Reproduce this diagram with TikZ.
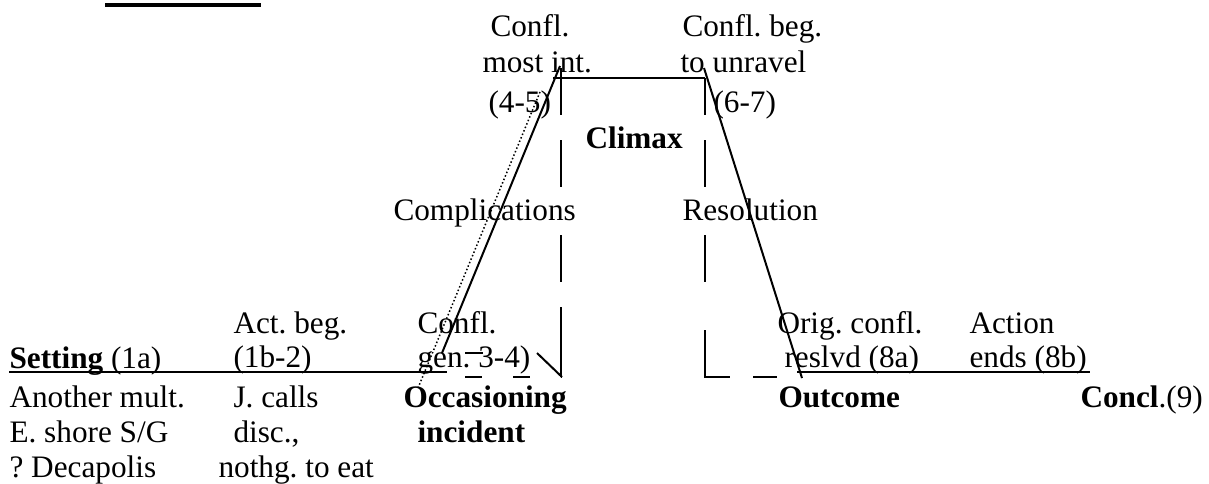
\documentclass[tikz,border=0pt]{standalone}
\usepackage{fontspec}
\setmainfont{Liberation Serif}
\frenchspacing
\begin{document}
\begin{tikzpicture}[x=0.4pt,y=-0.4pt,
        lbl/.style={anchor=base west,inner sep=0pt,font=\fontsize{12.5}{14}\selectfont},
        riseline/.style={line width=0.8pt},
        flatline/.style={line width=1.15pt},
        boxline/.style={line width=0.9pt}]
    \useasboundingbox (0,0) rectangle (1209,483);

    % cut-off title bar at the top
    \fill (105,3) rectangle (261,7);

    % corners of the plot
    \coordinate (setL) at (9,372);
    \coordinate (setR) at (447,372);
    \coordinate (riseB) at (442,353);
    \coordinate (riseT) at (560,66);
    \coordinate (topL) at (553,78);
    \coordinate (topR) at (705,78);
    \coordinate (fallT) at (704,68);
    \coordinate (fallB) at (802,378);
    \coordinate (endL) at (797,372);
    \coordinate (endR) at (1090,372);
    \coordinate (boxTL) at (561,68);
    \coordinate (boxBL) at (561,377);
    \coordinate (boxEL) at (465,377);
    \coordinate (boxTR) at (705,78);
    \coordinate (boxBR) at (705,377);
    \coordinate (boxER) at (777,377);
    \coordinate (kinkA) at (537,353);
    \coordinate (kinkB) at (562,377);
    \coordinate (barA) at (465,353);
    \coordinate (barB) at (483,353);
    \coordinate (dotT) at (540,92);
    \coordinate (dotB) at (418,388);

    \draw[flatline] (setL) -- (setR);
    \draw[riseline] (riseB) -- (riseT);
    \draw[flatline] (topL) -- (topR);
    \draw[riseline] (fallT) -- (fallB);
    \draw[flatline] (endL) -- (endR);

    % dashed guides round the climax
    \draw[boxline,dash pattern=on 18.8pt off 10pt on 18.8pt off 19.2pt on 18.8pt off 10pt on 28pt off 12.4pt on 6.8pt off 12.4pt on 7.2pt]
        (boxTL) -- (boxBL) -- (boxEL);
    \draw[boxline,dash pattern=on 14.8pt off 10pt on 18.8pt off 19.2pt on 18.8pt off 19.2pt on 28.8pt off 9.2pt on 9.6pt]
        (boxTR) -- (boxBR) -- (boxER);
    \draw[riseline] (kinkA) -- (kinkB);
    \draw[riseline] (barA) -- (barB);
    \draw[line width=0.6pt,dash pattern=on 0.6pt off 0.9pt] (dotT) -- (dotB);

    % labels above
    \node[lbl] (mostA) at (490,36.5) {Confl.};
    \node[lbl] (mostB) at (482,72) {most int.};
    \node[lbl] (mostC) at (488,112) {(4-5)};
    \node[lbl] (unravA) at (682,36.5) {Confl. beg.};
    \node[lbl] (unravB) at (680,72) {to unravel};
    \node[lbl] (unravC) at (713,112) {(6-7)};
    \node[lbl] (climax) at (585,148) {\textbf{Climax}};
    \node[lbl] (compl) at (393,220) {Complications};
    \node[lbl] (resol) at (682,220) {Resolution};

    % labels over the base line
    \node[lbl] (actA) at (233,333) {Act. beg.};
    \node[lbl] (actB) at (233,367) {(1b-2)};
    \node[lbl] (genA) at (417,333) {Confl.};
    \node[lbl] (genB) at (417,367) {gen. 3-4)};
    \node[lbl] (origA) at (777,333) {Orig. confl.};
    \node[lbl] (origB) at (784,367) {reslvd (8a)};
    \node[lbl] (endsA) at (969,333) {Action};
    \node[lbl] (endsB) at (969,367) {ends (8b)};
    \node[lbl] (setting) at (9,368) {\textbf{Setting} (1a)};

    % labels under the base line
    \node[lbl] (mult) at (9,407) {Another mult.};
    \node[lbl] (shore) at (9,442) {E. shore S/G};
    \node[lbl] (deca) at (9,477) {? Decapolis};
    \node[lbl] (calls) at (233,407) {J. calls};
    \node[lbl] (disc) at (233,442) {disc.,};
    \node[lbl] (nothg) at (218,477) {nothg. to eat};
    \node[lbl] (occ) at (403,407) {\textbf{Occasioning}};
    \node[lbl] (incid) at (417,442) {\textbf{incident}};
    \node[lbl] (outc) at (778,407) {\textbf{Outcome}};
    \node[lbl] (concl) at (1080,407) {\textbf{Concl}.(9)};
\end{tikzpicture}
\end{document}
